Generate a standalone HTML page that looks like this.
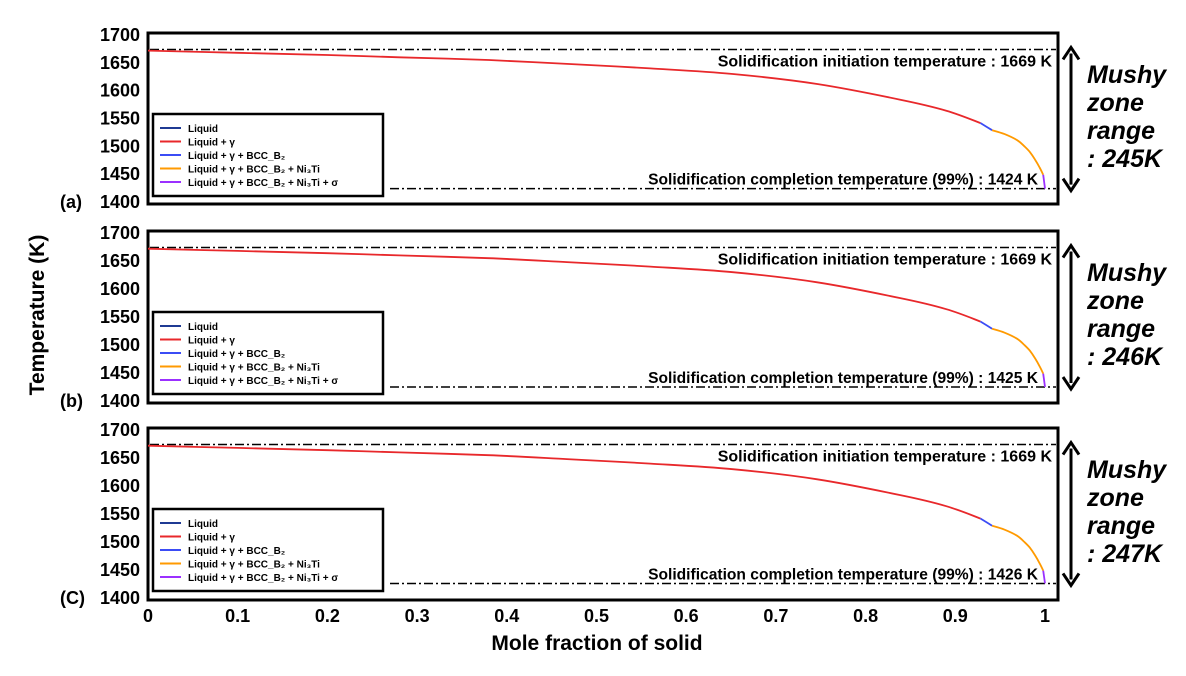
<!DOCTYPE html>
<html><head><meta charset="utf-8">
<style>
body{margin:0;background:#fff;width:1186px;height:671px;overflow:hidden;font-family:"Liberation Sans",Arial,sans-serif;}
svg text{font-family:"Liberation Sans",Arial,sans-serif;}
</style></head>
<body>
<svg id="chart" width="1186" height="671" viewBox="0 0 1186 671" xmlns="http://www.w3.org/2000/svg"></svg>
<script>
const xTicks=[0,0.1,0.2,0.3,0.4,0.5,0.6,0.7,0.8,0.9,1];
const xTickLabels=["0","0.1","0.2","0.3","0.4","0.5","0.6","0.7","0.8","0.9","1"];
const yTicks=[1700,1650,1600,1550,1500,1450,1400];
const panelNames=["(a)","(b)","(C)"];
const initTemps=[1669,1669,1669];
const finalTemps=[1424,1425,1426];
const mushyRanges=[245,246,247];
const fsRed=[0,0.1,0.2,0.28,0.38,0.467,0.56,0.652,0.746,0.838,0.89,0.928];
const tRed=[1672,1668,1664,1660,1655,1648,1640,1630,1612,1584,1564,1542];
const fsBlue=[0.928,0.941];
const tBlue=[1542,1529];
const fsOrange=[0.941,0.955,0.969,0.977,0.983,0.989,0.994,0.998];
const tOrange=[1529,1522,1511,1500,1490,1476,1462,1449];
const fsPurple=[0.998,1.0];
const legendLabels=["Liquid","Liquid + γ","Liquid + γ + BCC_B₂","Liquid + γ + BCC_B₂ + Ni₃Ti","Liquid + γ + BCC_B₂ + Ni₃Ti + σ"];
const legendColors=["#1f3a93","#e8282b","#3b4cf5","#ff9a00","#9b30ff"];

const svg=document.getElementById('chart');
const NS="http://www.w3.org/2000/svg";
function mk(tag,attrs,parent){const e=document.createElementNS(NS,tag);for(const k in attrs)e.setAttribute(k,attrs[k]);(parent||svg).appendChild(e);return e;}
const X0=148,X1=1045,BOXR=1058;
function xs(v){return X0+v*(X1-X0);}
function smooth(pts){
  let d='M'+pts[0][0].toFixed(1)+' '+pts[0][1].toFixed(1);
  for(let k=0;k<pts.length-1;k++){
    const p0=pts[k-1]||pts[k],p1=pts[k],p2=pts[k+1],p3=pts[k+2]||p2;
    const c1=[p1[0]+(p2[0]-p0[0])/6,p1[1]+(p2[1]-p0[1])/6];
    const c2=[p2[0]-(p3[0]-p1[0])/6,p2[1]-(p3[1]-p1[1])/6];
    d+=` C${c1[0].toFixed(1)} ${c1[1].toFixed(1)} ${c2[0].toFixed(1)} ${c2[1].toFixed(1)} ${p2[0].toFixed(1)} ${p2[1].toFixed(1)}`;
  }
  return d;
}
const panels=[{top:33,bot:204},{top:231,bot:403},{top:428,bot:600}];

panels.forEach((p,i)=>{
  const g=mk('g',{});
  
  
  const yT=p.top+2,yB=p.bot-2;
  const ys=v=>yT+(1700-v)/300*(yB-yT);
  const box=mk('rect',{x:X0,y:p.top,width:BOXR-X0,height:p.bot-p.top,fill:'none',stroke:'#000','stroke-width':3},g);
  
  
  yTicks.forEach(t=>{
    const tx=mk('text',{x:140,y:ys(t)+6,'text-anchor':'end','font-size':18,'font-weight':'bold'},g);
    tx.textContent=t;
    
    
  });
  const pl=mk('text',{x:60,y:ys(1400)+6,'font-size':18,'font-weight':'bold'},g);
  pl.textContent=panelNames[i];
  
  
  const l1=mk('line',{x1:X0+2,x2:BOXR-2,y1:ys(initTemps[i]+5),y2:ys(initTemps[i]+5),stroke:'#000','stroke-width':1.5,'stroke-dasharray':'9 3 2 3'},g);
  
  
  const l2=mk('line',{x1:390,x2:BOXR-2,y1:ys(finalTemps[i]),y2:ys(finalTemps[i]),stroke:'#000','stroke-width':1.5,'stroke-dasharray':'9 3 2 3'},g);
  
  
  const a1=mk('text',{x:1052,y:ys(initTemps[i])+14,'text-anchor':'end','font-size':16,'font-weight':'bold'},g);
  a1.textContent='Solidification initiation temperature : '+initTemps[i]+' K';
  
  
  const a2=mk('text',{x:1038,y:ys(finalTemps[i])-4,'text-anchor':'end','font-size':15.6,'font-weight':'bold'},g);
  a2.textContent='Solidification completion temperature (99%) : '+finalTemps[i]+' K';
  
  
  const tPurple=[tOrange[tOrange.length-1],finalTemps[i]];
  const series=[[fsRed,tRed,legendColors[1],'curve-liquid-gamma'],[fsBlue,tBlue,legendColors[2],'curve-bcc'],[fsOrange,tOrange,legendColors[3],'curve-ni3ti'],[fsPurple,tPurple,legendColors[4],'curve-sigma']];
  series.forEach(s=>{
    const pts=s[0].map((f,k)=>[xs(f),ys(s[1][k])]);
    const pa=mk('path',{d:smooth(pts),fill:'none',stroke:s[2],'stroke-width':1.8,'stroke-linejoin':'round'},g);
    
    
  });
  const lg=mk('g',{},g);
  
  
  const ly=p.top+81;
  mk('rect',{x:153,y:ly,width:230,height:82,fill:'#fff',stroke:'#000','stroke-width':2.5},lg);
  legendLabels.forEach((lab,k)=>{
    const yy=ly+14+k*13.5;
    const ll=mk('line',{x1:160,x2:181,y1:yy,y2:yy,stroke:legendColors[k],'stroke-width':2},lg);
    
    
    const lt=mk('text',{x:188,y:yy+4,'font-size':10,'font-weight':'bold'},lg);
    lt.textContent=lab;
    
    
  });
  const ay1=ys(initTemps[i]+5)-2,ay2=ys(finalTemps[i])+2;
  const ar=mk('path',{d:`M1071 ${ay1+6} L1071 ${ay2-6} M1063 ${ay1+12} L1071 ${ay1} L1079 ${ay1+12} M1063 ${ay2-12} L1071 ${ay2} L1079 ${ay2-12}`,fill:'none',stroke:'#000','stroke-width':3},g);
  
  
  const mt=['Mushy','zone','range',': '+mushyRanges[i]+'K'];
  mt.forEach((t,k)=>{
    const tx=mk('text',{x:1087,y:p.top+50+k*28,'font-size':25,'font-weight':'bold','font-style':'italic'},g);
    tx.textContent=t;
    
    
  });
});
xTicks.forEach((v,k)=>{
  const t=mk('text',{x:xs(v),y:622,'text-anchor':'middle','font-size':18,'font-weight':'bold'});
  t.textContent=xTickLabels[k];
  
  
});
const xt=mk('text',{x:597,y:650,'text-anchor':'middle','font-size':21,'font-weight':'bold'});
xt.textContent='Mole fraction of solid';


const yt=mk('text',{x:0,y:0,'text-anchor':'middle','font-size':21,'font-weight':'bold',transform:'translate(44,315) rotate(-90)'});
yt.textContent='Temperature (K)';


</script>
</body></html>
